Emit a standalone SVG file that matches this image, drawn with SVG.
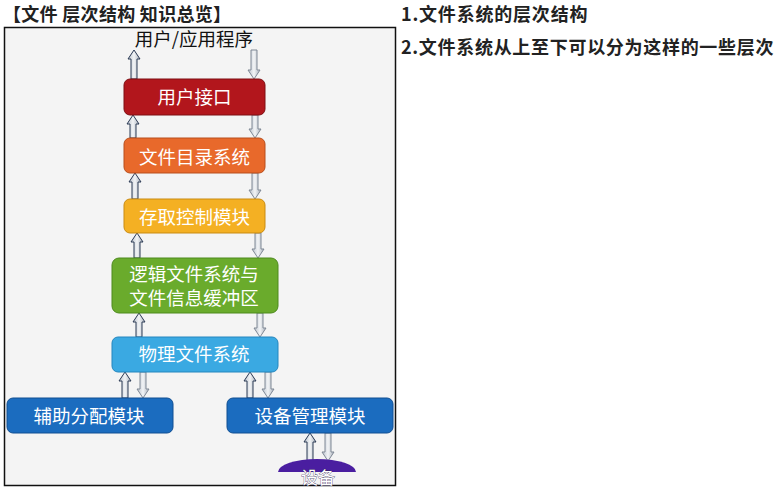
<svg xmlns="http://www.w3.org/2000/svg" width="778" height="489" viewBox="0 0 778 489">
<defs>
<linearGradient id="ag" x1="0" y1="0" x2="1" y2="0">
<stop offset="0" stop-color="#b9c0ca"/><stop offset="0.5" stop-color="#f2f4f6"/><stop offset="1" stop-color="#aab1bc"/>
</linearGradient>
<style>
.t{font-family:"Noto Sans CJK SC","Noto Sans",sans-serif;}
.h{font-weight:bold;fill:#222;font-size:18px;}
.bt{fill:#fff;font-size:18.5px;text-anchor:middle;}
.box{stroke-width:1;}
.up{fill:url(#ag);stroke:#2b3a55;stroke-width:1;}
.dn{fill:url(#ag);stroke:#7f8895;stroke-width:1;}
</style>
</defs>
<rect width="778" height="489" fill="#fff"/>
<text class="t h" x="3" y="21" letter-spacing="0.3">【文件 层次结构 知识总览】</text>
<text class="t h" x="401" y="21" letter-spacing="0.8">1.文件系统的层次结构</text>
<text class="t h" x="401" y="54" letter-spacing="0.7">2.文件系统从上至下可以分为这样的一些层次</text>
<rect x="4.5" y="27.5" width="391" height="458" fill="#f4f4f4" stroke="#111" stroke-width="1.5"/>
<text class="t" x="194" y="46" font-size="18.5" text-anchor="middle" fill="#111">用户/应用程序</text>

<g id="connectors">
<path class="up" d="M134 50 L140 59 L137 59 L137 79 L131 79 L131 59 L128 59 Z"/>
<path class="dn" d="M254 79 L260 70 L257 70 L257 50 L251 50 L251 70 L248 70 Z"/>
<path class="up" d="M133 115 L139 124 L136 124 L136 138 L130 138 L130 124 L127 124 Z"/>
<path class="dn" d="M255 138 L261 129 L258 129 L258 115 L252 115 L252 129 L249 129 Z"/>
<path class="up" d="M135 173 L141 182 L138 182 L138 199 L132 199 L132 182 L129 182 Z"/>
<path class="dn" d="M255 199 L261 190 L258 190 L258 173 L252 173 L252 190 L249 190 Z"/>
<path class="up" d="M137 233 L143 242 L140 242 L140 258 L134 258 L134 242 L131 242 Z"/>
<path class="dn" d="M258 258 L264 249 L261 249 L261 233 L255 233 L255 249 L252 249 Z"/>
<path class="up" d="M139 313 L145 322 L142 322 L142 337 L136 337 L136 322 L133 322 Z"/>
<path class="dn" d="M260 337 L266 328 L263 328 L263 313 L257 313 L257 328 L254 328 Z"/>
<path class="up" d="M125 372 L131 381 L128 381 L128 398 L122 398 L122 381 L119 381 Z"/>
<path class="dn" d="M143 398 L149 389 L146 389 L146 372 L140 372 L140 389 L137 389 Z"/>
<path class="up" d="M250 372 L256 381 L253 381 L253 398 L247 398 L247 381 L244 381 Z"/>
<path class="dn" d="M268 398 L274 389 L271 389 L271 372 L265 372 L265 389 L262 389 Z"/>
<path class="up" d="M310 433 L316 442 L313 442 L313 461 L307 461 L307 442 L304 442 Z"/>
<path class="dn" d="M328 461 L334 452 L331 452 L331 433 L325 433 L325 452 L322 452 Z"/>
</g>

<g id="user-interface">
<rect class="box" x="124" y="79" width="141" height="36" rx="6" fill="#b2161c" stroke="#7e0e12"/>
<text class="t bt" x="194.5" y="103.5">用户接口</text>
</g>
<g id="dir-system">
<rect class="box" x="124" y="138" width="141" height="35" rx="6" fill="#e8692b" stroke="#b84e1c"/>
<text class="t bt" x="194.5" y="163.5">文件目录系统</text>
</g>
<g id="access-control">
<rect class="box" x="124" y="199" width="141" height="34" rx="6" fill="#f4b023" stroke="#c98b12"/>
<text class="t bt" x="194.5" y="223.5">存取控制模块</text>
</g>
<g id="logical-fs">
<rect class="box" x="112" y="258" width="166" height="55" rx="7" fill="#6aab2c" stroke="#4c8a1c"/>
<text class="t bt" x="194" y="280.5">逻辑文件系统与</text>
<text class="t bt" x="194" y="304.5">文件信息缓冲区</text>
</g>
<g id="physical-fs">
<rect class="box" x="112" y="337" width="166" height="35" rx="6" fill="#3aa9e2" stroke="#2486be"/>
<text class="t bt" x="194" y="361">物理文件系统</text>
</g>
<g id="alloc-module">
<rect class="box" x="7" y="398" width="166" height="35" rx="6" fill="#1b6cbf" stroke="#104e92"/>
<text class="t bt" x="89" y="422.5">辅助分配模块</text>
</g>
<g id="device-mgmt">
<rect class="box" x="227" y="398" width="166" height="35" rx="6" fill="#1b6cbf" stroke="#104e92"/>
<text class="t bt" x="310" y="422.5">设备管理模块</text>
</g>
<g id="device">
<path d="M278 472 A39 13 0 0 1 356 472 Z" fill="#4a1ea0"/>
<text class="t" x="318" y="484" font-size="17" text-anchor="middle" fill="#fff" stroke="#2a2050" stroke-width="0.6" paint-order="stroke">设备</text>
</g>
</svg>
